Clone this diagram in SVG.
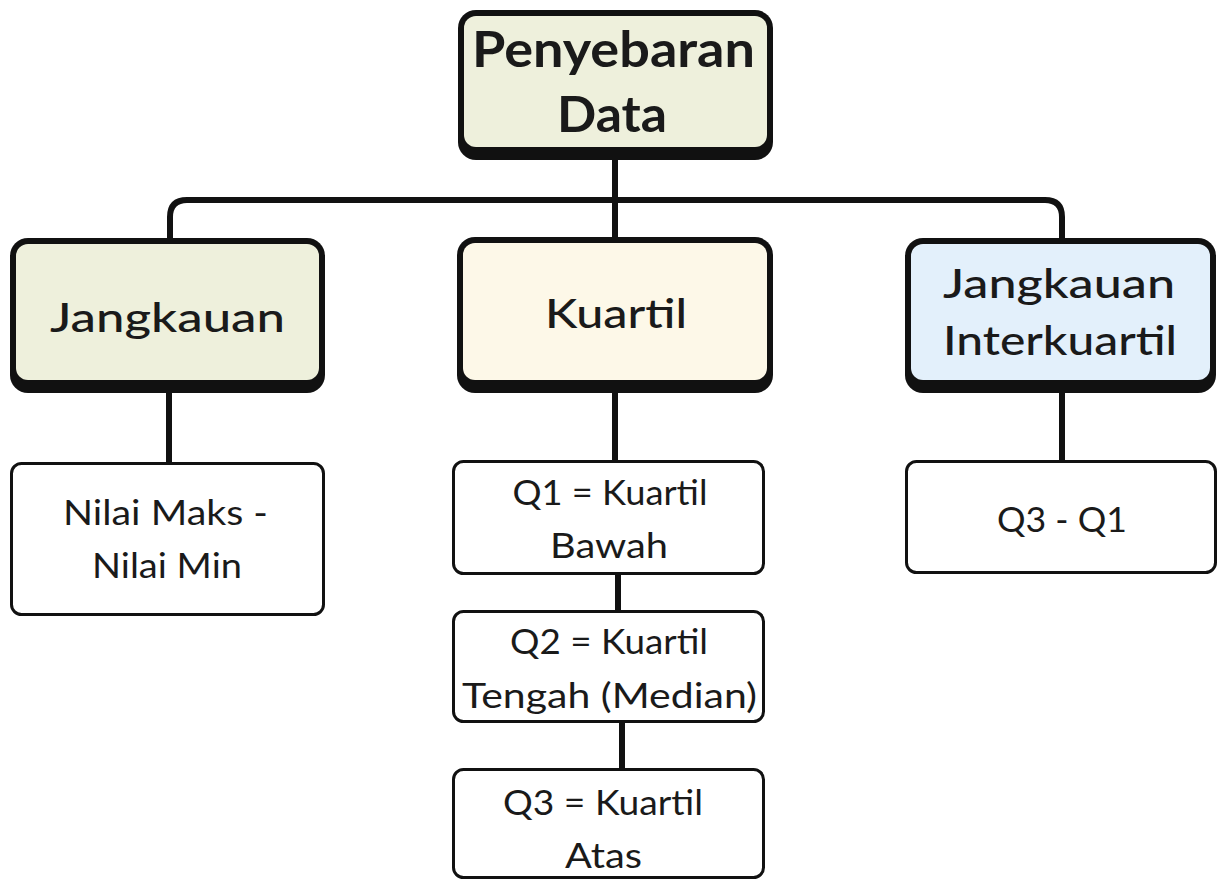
<svg xmlns="http://www.w3.org/2000/svg" width="1218" height="881" viewBox="0 0 1218 881">
<style>
.outer{fill:#111111}
.t{font-family:Lato,"Open Sans","Liberation Sans",sans-serif;fill:#1a1a1a;text-anchor:middle}
.big{font-size:50px;font-weight:700}
.mid{font-size:41px;font-weight:500}
.small{font-size:34px;font-weight:400}
.leaf{fill:#ffffff;stroke:#111111;stroke-width:3}
.conn{fill:none;stroke:#111111;stroke-width:6}
</style>
<rect width="1218" height="881" fill="#ffffff"/>
<g id="connectors">
<path class="conn" d="M615 160 V240"/>
<path class="conn" d="M170 240 V217 Q170 200 187 200 H1045 Q1062 200 1062 217 V240"/>
<path class="conn" d="M169 393 V463"/>
<path class="conn" d="M615 393 V461"/>
<path class="conn" d="M1062 393 V461"/>
<path class="conn" d="M618 574 V611"/>
<path class="conn" d="M622 722 V769"/>
</g>
<g id="root">
<rect class="outer" x="458" y="10" width="315" height="150" rx="18"/>
<rect x="464" y="16" width="303" height="131" rx="12" fill="#eef0dc"/>
<text class="t big" x="613.5" y="67" textLength="283" lengthAdjust="spacingAndGlyphs">Penyebaran</text>
<text class="t big" x="612" y="132" textLength="110" lengthAdjust="spacingAndGlyphs">Data</text>
</g>
<g id="jangkauan">
<rect class="outer" x="10" y="238" width="315" height="155" rx="18"/>
<rect x="16" y="244" width="303" height="136" rx="12" fill="#eef0dc"/>
<text class="t mid" x="167.5" y="332" textLength="235" lengthAdjust="spacingAndGlyphs">Jangkauan</text>
</g>
<g id="kuartil">
<rect class="outer" x="457" y="237" width="316" height="156" rx="18"/>
<rect x="463" y="243" width="304" height="137" rx="12" fill="#fdf8e8"/>
<text class="t mid" x="616" y="328" textLength="142" lengthAdjust="spacingAndGlyphs">Kuartil</text>
</g>
<g id="jangkauan-interkuartil">
<rect class="outer" x="905" y="238" width="311" height="155" rx="18"/>
<rect x="911" y="244" width="299" height="136" rx="12" fill="#e3f0fb"/>
<text class="t mid" x="1059" y="298" textLength="232" lengthAdjust="spacingAndGlyphs">Jangkauan</text>
<text class="t mid" x="1060" y="355" textLength="234" lengthAdjust="spacingAndGlyphs">Interkuartil</text>
</g>
<g id="range-formula">
<rect class="leaf" x="11.5" y="463.5" width="312" height="151" rx="10"/>
<text class="t small" x="165.5" y="525" textLength="205" lengthAdjust="spacingAndGlyphs">Nilai Maks -</text>
<text class="t small" x="167" y="578" textLength="150" lengthAdjust="spacingAndGlyphs">Nilai Min</text>
</g>
<g id="q1">
<rect class="leaf" x="453.5" y="461.5" width="310" height="112" rx="10"/>
<text class="t small" x="610" y="505" textLength="195" lengthAdjust="spacingAndGlyphs">Q1 = Kuartil</text>
<text class="t small" x="609" y="558" textLength="118" lengthAdjust="spacingAndGlyphs">Bawah</text>
</g>
<g id="q2">
<rect class="leaf" x="453.5" y="611.5" width="310" height="110" rx="10"/>
<text class="t small" x="609" y="654" textLength="198" lengthAdjust="spacingAndGlyphs">Q2 = Kuartil</text>
<text class="t small" x="609.5" y="708" textLength="295" lengthAdjust="spacingAndGlyphs">Tengah (Median)</text>
</g>
<g id="q3">
<rect class="leaf" x="453.5" y="769.5" width="310" height="108" rx="10"/>
<text class="t small" x="603" y="815" textLength="200" lengthAdjust="spacingAndGlyphs">Q3 = Kuartil</text>
<text class="t small" x="603.5" y="868" textLength="77" lengthAdjust="spacingAndGlyphs">Atas</text>
</g>
<g id="iqr-formula">
<rect class="leaf" x="906.5" y="461.5" width="309" height="111" rx="10"/>
<text class="t small" x="1062" y="532" textLength="130" lengthAdjust="spacingAndGlyphs">Q3 - Q1</text>
</g>
</svg>
